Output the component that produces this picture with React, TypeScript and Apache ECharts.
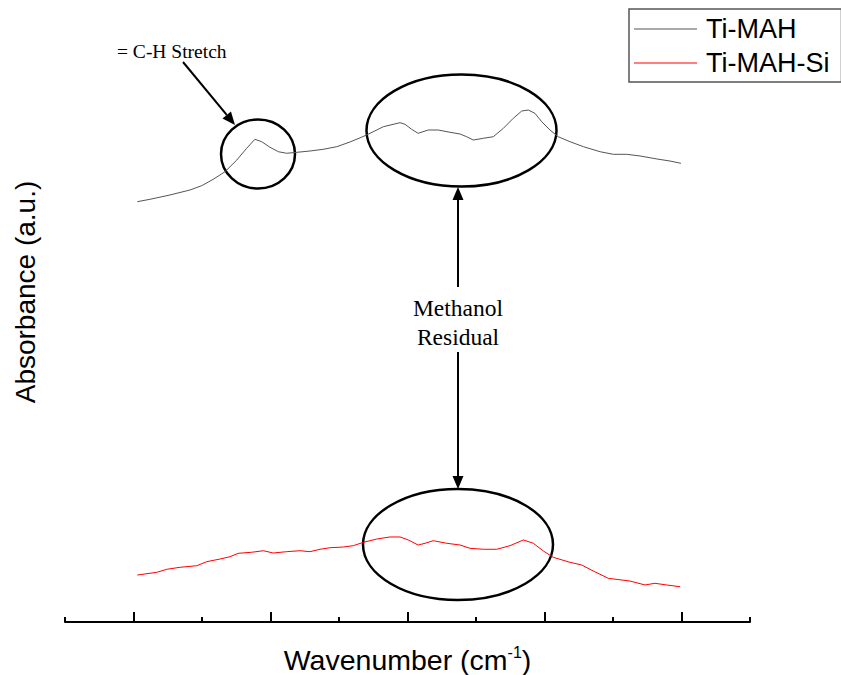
import React, { useEffect, useRef } from "react";
import * as echarts from "echarts";

// Wavenumber-like x positions (axis labels are hidden in the original)
const blackX = [514, 560, 633, 706, 749, 791, 834, 877, 913, 943, 968, 998, 1029, 1059, 1096, 1144, 1192, 1242, 1290, 1327, 1351, 1412, 1473, 1491, 1515, 1539, 1576, 1612, 1655, 1692, 1716, 1740, 1777, 1813, 1850, 1886, 1917, 1941, 1965, 1990, 2020, 2050, 2093, 2142, 2203, 2251, 2300, 2349, 2410, 2458, 2498];
const blackY = [70.05, 70.45, 71.17, 72.0, 72.72, 73.78, 75.05, 77.0, 78.95, 80.45, 80.05, 79.12, 78.38, 78.12, 78.28, 78.5, 78.78, 79.22, 80.0, 80.7, 81.17, 82.55, 83.22, 82.95, 82.12, 81.45, 82.0, 82.0, 81.62, 81.33, 80.88, 80.33, 80.62, 80.88, 82.28, 83.95, 85.17, 85.33, 84.78, 83.38, 82.0, 80.88, 80.05, 79.22, 78.38, 77.95, 77.95, 77.67, 77.17, 76.83, 76.45];

const redX = [514, 585, 621, 670, 731, 767, 816, 852, 882, 931, 974, 1010, 1059, 1108, 1144, 1181, 1217, 1266, 1302, 1339, 1388, 1436, 1473, 1503, 1539, 1564, 1594, 1643, 1692, 1728, 1777, 1826, 1874, 1923, 1959, 1996, 2032, 2093, 2136, 2178, 2233, 2312, 2367, 2403, 2446, 2495];
const redY = [7.83, 8.28, 8.78, 9.12, 9.38, 10.05, 10.5, 10.88, 11.45, 11.62, 11.88, 11.5, 11.72, 11.88, 11.72, 12.12, 12.38, 12.5, 12.72, 13.28, 13.83, 14.17, 14.17, 13.67, 12.83, 13.12, 13.55, 13.12, 12.83, 12.28, 12.12, 12.12, 12.72, 13.67, 13.12, 11.83, 10.78, 9.95, 9.5, 8.5, 7.28, 6.83, 6.17, 6.45, 6.17, 5.88];

const seriesNames = ["Ti-MAH", "Ti-MAH-Si"];
const majorTicks = [500, 1000, 1500, 2000, 2500];
const xMin = 250;
const xMax = 2750;
const minorInterval = 250;

const SANS = "Liberation Sans, Arial, sans-serif";
const SERIF = "Liberation Serif, Times New Roman, serif";

function arrowHead(tip: number[], from: number[], len: number, half: number) {
  const dx = tip[0] - from[0];
  const dy = tip[1] - from[1];
  const l = Math.hypot(dx, dy);
  const ux = dx / l, uy = dy / l;
  const bx = tip[0] - ux * len, by = tip[1] - uy * len;
  const px = -uy * half, py = ux * half;
  return {
    base: [bx, by],
    points: [tip, [bx + px, by + py], [bx - px, by - py]],
  };
}

function arrow(from: number[], tip: number[]) {
  const h = arrowHead(tip, from, 13, 5.5);
  return [
    {
      type: "line",
      shape: { x1: from[0], y1: from[1], x2: h.base[0], y2: h.base[1] },
      style: { stroke: "#000", lineWidth: 2 },
    },
    {
      type: "polygon",
      shape: { points: h.points },
      style: { fill: "#000" },
    },
  ];
}

export default function App() {
  const ref = useRef<HTMLDivElement>(null);
  useEffect(() => {
    if (!ref.current) return;
    const chart = echarts.init(ref.current, null, { renderer: "svg" });
    const ellipseStyle = { fill: "none", stroke: "#000", lineWidth: 2.5 };
    chart.setOption({
      animation: false,
      backgroundColor: "#fff",
      grid: { left: 65, right: 91, top: 22, bottom: 53, outerBoundsMode: "none", containLabel: false },
      legend: {
        orient: "vertical",
        left: 629,
        top: 9,
        data: seriesNames,
        icon: "rect",
        itemWidth: 63,
        itemHeight: 1.2,
        itemGap: 6,
        padding: [6, 12, 5, 5],
        borderColor: "#555",
        borderWidth: 1.5,
        textStyle: { fontSize: 27, fontFamily: SANS, color: "#000", lineHeight: 28, padding: [0, 0, 0, 4] },
      },
      xAxis: [
        {
          type: "value",
          position: "bottom",
          min: xMin,
          max: xMax,
          interval: minorInterval,
          axisLine: { show: true, lineStyle: { color: "#000", width: 2 } },
          axisTick: { show: true, inside: true, length: 5, lineStyle: { color: "#000", width: 2 } },
          axisLabel: { show: false },
          splitLine: { show: false },
          name: "{a|Wavenumber (cm}{s|-1}{a|)}",
          nameLocation: "middle",
          nameGap: 22,
          nameTextStyle: {
            rich: {
              a: { fontSize: 28.5, fontFamily: SANS, color: "#000", lineHeight: 31 },
              s: { fontSize: 16, fontFamily: SANS, color: "#000", verticalAlign: "top", lineHeight: 31 },
            },
          },
        },
        {
          type: "value",
          position: "bottom",
          min: xMin,
          max: xMax,
          interval: minorInterval,
          axisLine: { show: false },
          axisTick: { show: true, inside: true, length: 10, customValues: majorTicks, lineStyle: { color: "#000", width: 2 } },
          axisLabel: { show: false },
          splitLine: { show: false },
        },
      ],
      yAxis: { type: "value", min: 0, max: 100, show: false },
      series: [
        {
          name: seriesNames[0],
          type: "line",
          xAxisIndex: 0,
          symbol: "none",
          data: blackX.map((x, i) => [x, blackY[i]]),
          lineStyle: { color: "#555", width: 1 },
          itemStyle: { color: "#555" },
        },
        {
          name: seriesNames[1],
          type: "line",
          xAxisIndex: 0,
          symbol: "none",
          data: redX.map((x, i) => [x, redY[i]]),
          lineStyle: { color: "#ff0000", width: 1 },
          itemStyle: { color: "#ff0000" },
        },
      ],
      graphic: [
        { type: "ellipse", shape: { cx: 258, cy: 154, rx: 37, ry: 34.5 }, style: ellipseStyle },
        { type: "ellipse", shape: { cx: 461.5, cy: 130.5, rx: 95, ry: 56 }, style: ellipseStyle },
        { type: "ellipse", shape: { cx: 458, cy: 544.5, rx: 95, ry: 55.5 }, style: ellipseStyle },
        ...arrow([183, 62], [235, 125]),
        ...arrow([458, 287], [458, 187]),
        ...arrow([458, 352], [458, 489]),
        {
          type: "text",
          x: 117,
          y: 51,
          style: { text: "= C-H Stretch", fontSize: 19.5, fontFamily: SERIF, fill: "#000", align: "left", verticalAlign: "middle" },
        },
        {
          type: "text",
          x: 458,
          y: 308,
          style: { text: "Methanol", fontSize: 23.5, fontFamily: SERIF, fill: "#000", align: "center", verticalAlign: "middle" },
        },
        {
          type: "text",
          x: 458,
          y: 337,
          style: { text: "Residual", fontSize: 23.5, fontFamily: SERIF, fill: "#000", align: "center", verticalAlign: "middle" },
        },
        {
          type: "text",
          x: 25,
          y: 292,
          rotation: Math.PI / 2,
          style: { text: "Absorbance (a.u.)", fontSize: 28, fontFamily: SANS, fill: "#000", align: "center", verticalAlign: "middle" },
        },
      ],
    });
    return () => chart.dispose();
  }, []);
  return (
    <div
      ref={ref}
      style={{ position: "fixed", left: 0, top: 0, width: 841, height: 675, background: "#fff" }}
    />
  );
}
